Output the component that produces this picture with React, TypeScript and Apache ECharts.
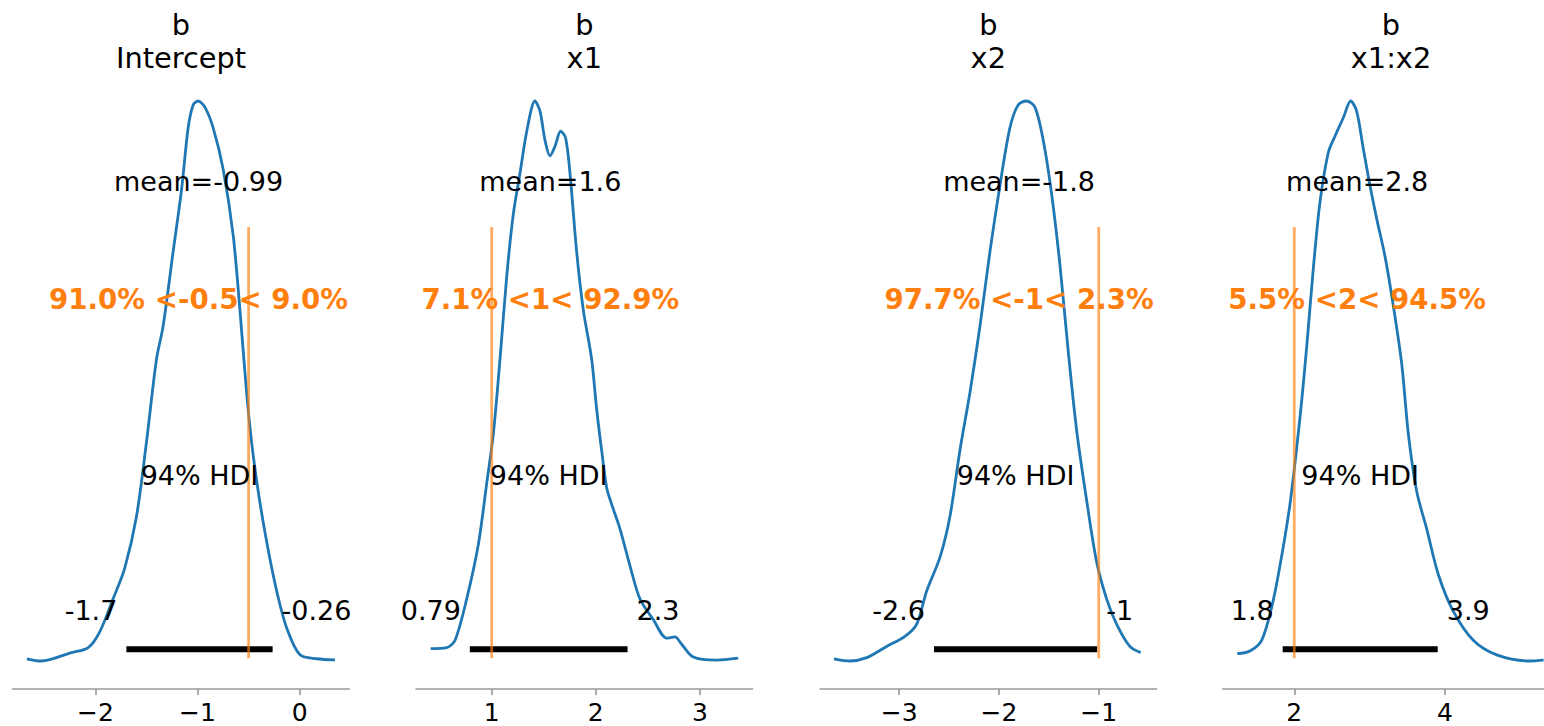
import React, { useEffect, useRef } from "react";
import * as echarts from "echarts";

// ---------- data ----------
const PANEL_NAMES = ["Intercept", "x1", "x2", "x1:x2"];
const VAR_NAME = "b";
const AXIS_MIN = [-2.81, 0.273, -3.793, 1.05];
const AXIS_MAX = [0.486, 3.506, -0.42, 5.315];
const TICK_VALUES = [[-2, -1, 0], [1, 2, 3], [-3, -2, -1], [2, 4]];
const MEANS = [-0.99, 1.563, -1.798, 2.835];
const MEAN_LABELS = ["mean=-0.99", "mean=1.6", "mean=-1.8", "mean=2.8"];
const REF_VALS = [-0.5, 1, -1, 2];
const REF_LABELS = ["91.0% <-0.5< 9.0%", "7.1% <1< 92.9%", "97.7% <-1< 2.3%", "5.5% <2< 94.5%"];
const HDI_LOW = [-1.697, 0.79, -2.651, 1.846];
const HDI_HIGH = [-0.265, 2.305, -1.015, 3.904];
const HDI_LOW_LABELS = ["-1.7", "0.79", "-2.6", "1.8"];
const HDI_HIGH_LABELS = ["-0.26", "2.3", "-1", "3.9"];
const HDI_LABEL = "94% HDI";

// KDE curves, density normalised to peak = 1
const kdeIntercept = [
  [-2.671, 0.004], [-2.53, 0.0], [-2.235, 0.015], [-2.07, 0.024], [-1.958, 0.052],
  [-1.827, 0.111], [-1.713, 0.166], [-1.598, 0.258], [-1.5, 0.391], [-1.402, 0.539],
  [-1.337, 0.598], [-1.239, 0.731], [-1.157, 0.841], [-1.092, 0.952], [-1.043, 0.993],
  [-0.994, 1.0], [-0.928, 0.989], [-0.847, 0.952], [-0.749, 0.878], [-0.651, 0.76],
  [-0.585, 0.627], [-0.52, 0.48], [-0.471, 0.391], [-0.406, 0.303], [-0.324, 0.214],
  [-0.225, 0.125], [-0.127, 0.059], [0.003, 0.011], [0.167, 0.004], [0.346, 0.002],
];
const kdeX1 = [
  [0.414, 0.022], [0.568, 0.024], [0.648, 0.037], [0.76, 0.111], [0.871, 0.207],
  [0.952, 0.317], [1.016, 0.406], [1.08, 0.539], [1.144, 0.686], [1.207, 0.797],
  [1.272, 0.871], [1.336, 0.945], [1.416, 1.0], [1.464, 0.982], [1.512, 0.93],
  [1.56, 0.902], [1.608, 0.919], [1.662, 0.946], [1.71, 0.934], [1.752, 0.871],
  [1.816, 0.731], [1.88, 0.627], [1.96, 0.539], [2.008, 0.45], [2.056, 0.376],
  [2.104, 0.31], [2.152, 0.28], [2.232, 0.236], [2.328, 0.17], [2.424, 0.111],
  [2.552, 0.074], [2.68, 0.041], [2.76, 0.043], [2.824, 0.03], [2.936, 0.007],
  [3.16, 0.0015], [3.368, 0.005],
];
const kdeX2 = [
  [-3.653, 0.004], [-3.493, 0.0], [-3.325, 0.006], [-3.125, 0.026], [-2.942, 0.044],
  [-2.824, 0.066], [-2.724, 0.125], [-2.591, 0.185], [-2.491, 0.258], [-2.391, 0.376],
  [-2.29, 0.48], [-2.19, 0.598], [-2.09, 0.731], [-1.99, 0.849], [-1.89, 0.952],
  [-1.807, 0.993], [-1.723, 1.0], [-1.639, 0.989], [-1.556, 0.93], [-1.472, 0.834],
  [-1.389, 0.708], [-1.306, 0.554], [-1.222, 0.413], [-1.122, 0.288], [-1.021, 0.177],
  [-0.921, 0.111], [-0.821, 0.066], [-0.688, 0.026], [-0.58, 0.015],
];
const kdeX1X2 = [
  [1.243, 0.013], [1.412, 0.018], [1.567, 0.037], [1.7, 0.096], [1.81, 0.17],
  [1.943, 0.28], [2.076, 0.435], [2.165, 0.561], [2.253, 0.701], [2.341, 0.819],
  [2.452, 0.908], [2.54, 0.937], [2.651, 0.97], [2.749, 1.0], [2.828, 0.982],
  [2.916, 0.915], [3.005, 0.849], [3.094, 0.79], [3.204, 0.723], [3.314, 0.635],
  [3.426, 0.531], [3.514, 0.406], [3.625, 0.303], [3.758, 0.236], [3.911, 0.155],
  [4.11, 0.089], [4.376, 0.037], [4.687, 0.011], [5.129, 0.0], [5.31, 0.0015],
];
const KDES = [kdeIntercept, kdeX1, kdeX2, kdeX1X2];

// ---------- layout ----------
const CHART_W = 1544;
const GRID_LEFTS = [12.7, 416, 820, 1222.7];
const GRID_WIDTH = 336.6;
const GRID_TOP = 73;
const GRID_HEIGHT = 616;
const Y_MIN = -0.05;
const Y_MAX = 1.05; // plot_height
const FONT = "DejaVu Sans";

const fmtTick = (v: number) => (v < 0 ? "\u2212" + Math.abs(v) : String(v));

function buildOption() {
  const grids: any[] = [];
  const xAxes: any[] = [];
  const yAxes: any[] = [];
  const series: any[] = [];
  const titles: any[] = [];
  const ph = Y_MAX;
  const yr = Y_MAX - Y_MIN;

  for (let i = 0; i < 4; i++) {
    const w = Math.min(GRID_WIDTH, CHART_W - GRID_LEFTS[i]);
    grids.push({ left: GRID_LEFTS[i], top: GRID_TOP, width: w, height: GRID_HEIGHT });
    titles.push({
      text: VAR_NAME + "\n" + PANEL_NAMES[i],
      left: GRID_LEFTS[i] + GRID_WIDTH / 2,
      textAlign: "center",
      top: 8,
      padding: 0,
      textStyle: { fontFamily: FONT, fontSize: 28.8, fontWeight: "normal", color: "#000", lineHeight: 33 },
    });
    xAxes.push({
      type: "value",
      gridIndex: i,
      min: AXIS_MIN[i],
      max: AXIS_MAX[i],
      axisLine: { show: true, onZero: false, lineStyle: { color: "#999999", width: 1.6 } },
      axisTick: { show: true, customValues: TICK_VALUES[i], length: 6, lineStyle: { color: "#999999", width: 1.6 } },
      axisLabel: {
        show: true,
        customValues: TICK_VALUES[i],
        formatter: (v: number) => fmtTick(v),
        fontFamily: FONT,
        fontSize: 25,
        color: "#000",
        margin: 11,
      },
      splitLine: { show: false },
    });
    yAxes.push({
      type: "value",
      gridIndex: i,
      min: Y_MIN,
      max: Y_MAX,
      show: false,
      splitLine: { show: false },
    });

    series.push({
      type: "line",
      xAxisIndex: i,
      yAxisIndex: i,
      data: KDES[i],
      showSymbol: false,
      symbol: "none",
      smooth: 0.3,
      lineStyle: { color: "#1f77b4", width: 2.8 },
      z: 2,
    });
    series.push({
      type: "line",
      xAxisIndex: i,
      yAxisIndex: i,
      data: [[HDI_LOW[i], ph * 0.02], [HDI_HIGH[i], ph * 0.02]],
      showSymbol: false,
      symbol: "none",
      lineStyle: { color: "#000", width: 6, cap: "butt" },
      z: 3,
    });
    series.push({
      type: "line",
      xAxisIndex: i,
      yAxisIndex: i,
      data: [[REF_VALS[i], Y_MIN + 0.05 * yr], [REF_VALS[i], Y_MIN + 0.75 * yr]],
      showSymbol: false,
      symbol: "none",
      lineStyle: { color: "#ff7f0e", width: 2.8, opacity: 0.65, cap: "butt" },
      z: 4,
    });

    const baseLabel = {
      show: true,
      position: "inside",
      fontFamily: FONT,
      fontSize: 27,
      color: "#000",
      opacity: 1,
      verticalAlign: "middle",
    };
    series.push({
      type: "scatter",
      xAxisIndex: i,
      yAxisIndex: i,
      symbolSize: 0,
      clip: false,
      silent: true,
      itemStyle: { opacity: 1 },
      z: 5,
      data: [
        { value: [MEANS[i], ph * 0.8], label: { ...baseLabel, formatter: MEAN_LABELS[i], align: "center", offset: [0, -9] } },
        {
          value: [MEANS[i], ph * 0.6],
          label: {
            ...baseLabel,
            formatter: REF_LABELS[i],
            align: "center",
            offset: [0, -9],
            color: "#ff7f0e",
            fontWeight: "bold",
            fontSize: 27.7,
          },
        },
        {
          value: [(HDI_LOW[i] + HDI_HIGH[i]) / 2, ph * 0.3],
          label: { ...baseLabel, formatter: HDI_LABEL, align: "center", offset: [0, -9] },
        },
        { value: [HDI_LOW[i], ph * 0.07], label: { ...baseLabel, formatter: HDI_LOW_LABELS[i], align: "right", offset: [-9, -9] } },
        { value: [HDI_HIGH[i], ph * 0.07], label: { ...baseLabel, formatter: HDI_HIGH_LABELS[i], align: "left", offset: [9, -9] } },
      ],
    });
  }

  return {
    animation: false,
    backgroundColor: "#ffffff",
    title: titles,
    grid: grids,
    xAxis: xAxes,
    yAxis: yAxes,
    series,
  };
}

export default function App() {
  const ref = useRef<HTMLDivElement>(null);
  useEffect(() => {
    if (!ref.current) return;
    const chart = echarts.init(ref.current, undefined, { renderer: "svg" });
    chart.setOption(buildOption() as any);
    return () => chart.dispose();
  }, []);
  return (
    <div
      ref={ref}
      style={{ position: "absolute", left: 0, top: 0, width: CHART_W, height: 726, background: "#fff" }}
    />
  );
}
